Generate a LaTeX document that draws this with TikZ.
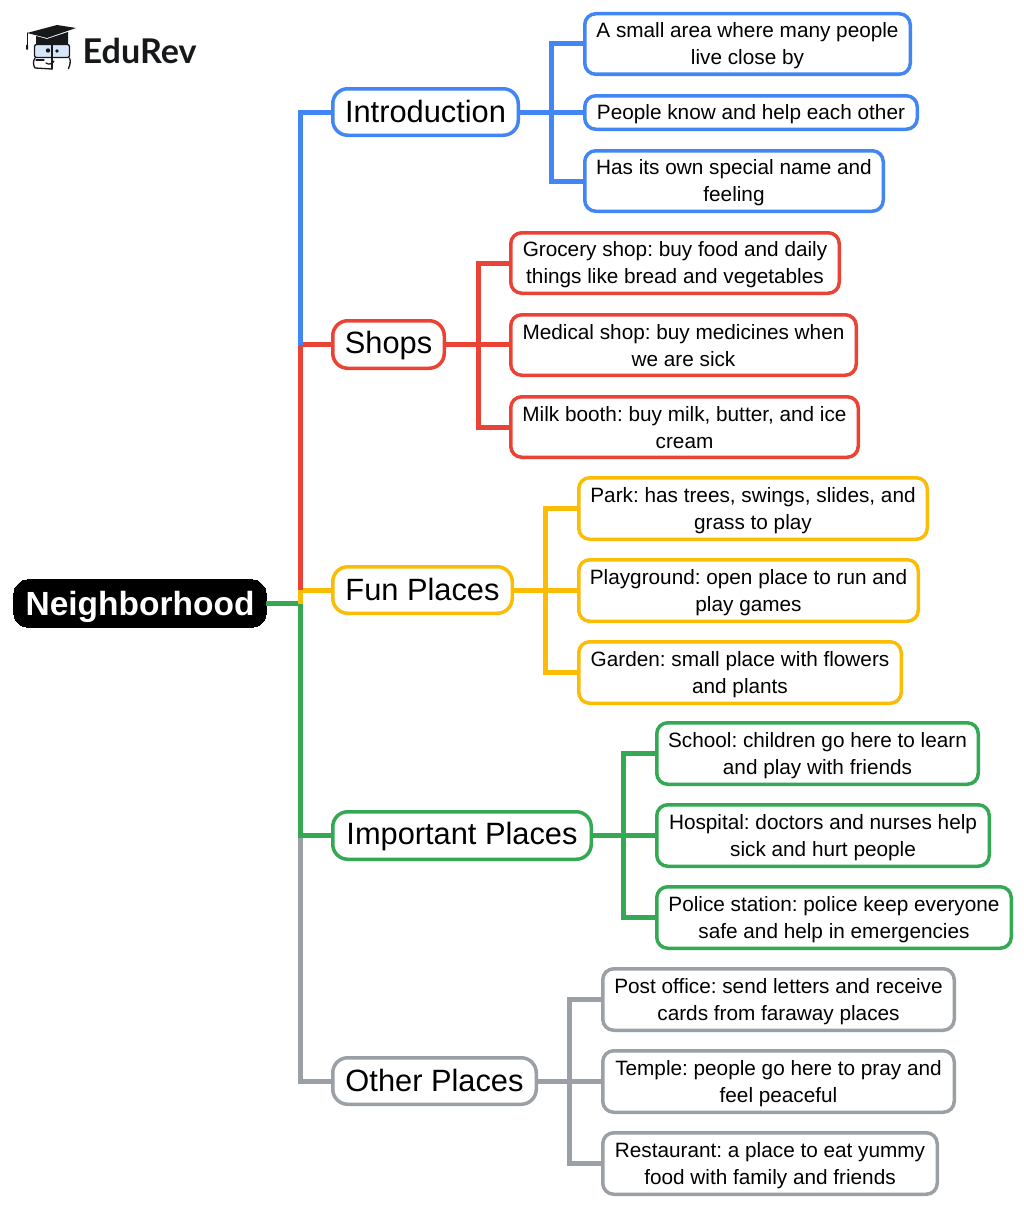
\documentclass[tikz,border=0pt]{standalone}
\usepackage{fontspec}
\setmainfont{Liberation Sans}
\newfontfamily\logofont{Lato}
\frenchspacing
\definecolor{cblue}{HTML}{4285F4}
\definecolor{cred}{HTML}{EA4335}
\definecolor{cyel}{HTML}{FBBC04}
\definecolor{cgrn}{HTML}{34A853}
\definecolor{cgry}{HTML}{9AA0A6}
\definecolor{lens}{HTML}{D6E6F8}
\definecolor{logoink}{HTML}{16181A}
\tikzset{
  boxbase/.style={draw,fill=white,line width=3.5pt,inner sep=0pt,align=center,text=black},
  branch/.style={boxbase,rounded corners=15pt,font=\fontsize{30.8}{36}\selectfont},
  leaf/.style={boxbase,rounded corners=11pt,font=\fontsize{20.75}{27}\selectfont},
  rootbox/.style={fill=black,text=white,draw=black,line width=0pt,inner sep=0pt,rounded corners=15pt,font=\fontsize{33.5}{38}\selectfont\bfseries},
  link/.style={line width=5pt,line join=miter},
  logoline/.style={draw=logoink,line width=1.3pt,line join=round,line cap=round}
}
% name, style, x1, y1, x2, y2, strut height, strut depth, text
\newcommand{\bx}[9]{%
  \pgfmathsetmacro{\cx}{(#3+#5)/2}%
  \pgfmathsetmacro{\cy}{(#4+#6)/2}%
  \pgfmathsetmacro{\bw}{#5-#3-1.5}%
  \pgfmathsetmacro{\bh}{#6-#4-1.5}%
  \node[#2,minimum width=\bw pt,minimum height=\bh pt] (#1) at (\cx,\cy) {\rule{0pt}{#7pt}#9\rule[-#8pt]{0pt}{#8pt}};}
\newcommand{\leafbx}[7]{\bx{#1}{leaf,draw=#2}{#3}{#4}{#5}{#6}{19}{4}{#7}}
\newcommand{\bxb}[6]{\bx{#1}{branch,draw=#2}{332}{#3}{#4}{#5}{25}{5}{#6}}
\begin{document}
\begin{tikzpicture}[x=1pt,y=-1pt]
\useasboundingbox (0,0) rectangle (1024,1207);
\fill[white] (0,0) rectangle (1024,1207);

% logo
\fill[logoink] (27,33) -- (57,25) -- (76,28) -- (47,38) -- cycle;
\fill[logoink] (36,36) -- (47,39) -- (68,32) -- (68,44) -- (36,44) -- cycle;
\draw[logoline,line width=1pt] (27,33) -- (27,45);
\fill[logoink] (26,45) -- (28,45) -- (28,49) -- (27,50) -- (26,49) -- cycle;
\draw[logoline,fill=lens,rounded corners=2pt] (34.5,44.5) rectangle (69.5,57.5);
\draw[logoline] (35,58) .. controls (33,61) and (33,65) .. (35,68) -- (52,69);
\draw[logoline] (69.5,58) .. controls (71,61) and (70,65) .. (68.5,68.5);
\draw[logoline] (52,44.5) -- (52,69);
\draw[logoline] (36,60) -- (44,60);
\draw[logoline] (46,63) .. controls (49,65) and (52,64) .. (54,61);
\fill[logoink] (48,50.5) circle (2.2pt) (57,51) circle (1.8pt);
\node[font=\logofont\bfseries\fontsize{34.1}{36}\selectfont,text=logoink,inner sep=0pt,anchor=west] (logotext) at (82.5,51) {EduRev};

% boxes
\bx{root}{rootbox}{13}{579}{267}{628}{31}{6}{Neighborhood}
\bxb{intro}{cblue}{88}{519}{136}{Introduction}
\bxb{shops}{cred}{320}{445}{369}{Shops}
\bxb{fun}{cyel}{566}{513}{614}{Fun Places}
\bxb{imp}{cgrn}{811}{592}{860}{Important Places}
\bxb{oth}{cgry}{1057}{537}{1105}{Other Places}

\leafbx{a1}{cblue}{584}{13}{911}{75}{A small area where many people\\live close by}
\leafbx{a2}{cblue}{584}{95}{918}{130}{People know and help each other}
\leafbx{a3}{cblue}{584}{150}{884}{212}{Has its own special name and\\feeling}
\leafbx{b1}{cred}{510}{232}{840}{294}{Grocery shop: buy food and daily\\things like bread and vegetables}
\leafbx{b2}{cred}{510}{314}{857}{376}{Medical shop: buy medicines when\\we are sick}
\leafbx{b3}{cred}{510}{396}{859}{458}{Milk booth: buy milk, butter, and ice\\cream}
\leafbx{c1}{cyel}{578}{477}{928}{540}{Park: has trees, swings, slides, and\\grass to play}
\leafbx{c2}{cyel}{578}{559}{919}{622}{Playground: open place to run and\\play games}
\leafbx{c3}{cyel}{578}{641}{902}{704}{Garden: small place with flowers\\and plants}
\leafbx{d1}{cgrn}{656}{722}{979}{785}{School: children go here to learn\\and play with friends}
\leafbx{d2}{cgrn}{656}{804}{990}{867}{Hospital: doctors and nurses help\\sick and hurt people}
\leafbx{d3}{cgrn}{656}{886}{1012}{949}{Police station: police keep everyone\\safe and help in emergencies}
\leafbx{e1}{cgry}{602}{968}{955}{1031}{Post office: send letters and receive\\cards from faraway places}
\leafbx{e2}{cgry}{602}{1050}{955}{1113}{Temple: people go here to pray and\\feel peaceful}
\leafbx{e3}{cgry}{602}{1132}{938}{1195}{Restaurant: a place to eat yummy\\food with family and friends}

% spine
\coordinate (s0) at (300,603.5);
\coordinate (ta) at (551,112);
\coordinate (tb) at (478,344.5);
\coordinate (tc) at (545.5,590);
\coordinate (td) at (623.5,835.5);
\coordinate (te) at (569.5,1081);

\draw[link,cgry] (s0 |- imp) -- (s0 |- oth) -- (oth.west);
\draw[link,cgrn] (root.east) -- (s0) -- (s0 |- imp) -- (imp.west);
\draw[link,cyel] (s0) -- (s0 |- fun) -- (fun.west);
\draw[link,cred] (s0 |- fun) -- (s0 |- shops) -- (shops.west);
\draw[link,cblue] (s0 |- shops) -- (s0 |- intro) -- (intro.west);

% child links
\draw[link,cblue] (intro.east) -- (a2.west |- intro);
\draw[link,cblue] (a1.west) -| (ta) |- (a3.west);
\draw[link,cred] (shops.east) -- (b2.west |- shops);
\draw[link,cred] (b1.west) -| (tb) |- (b3.west);
\draw[link,cyel] (fun.east) -- (c2.west |- fun);
\draw[link,cyel] (c1.west) -| (tc) |- (c3.west);
\draw[link,cgrn] (imp.east) -- (d2.west |- imp);
\draw[link,cgrn] (d1.west) -| (td) |- (d3.west);
\draw[link,cgry] (oth.east) -- (e2.west |- oth);
\draw[link,cgry] (e1.west) -| (te) |- (e3.west);
\end{tikzpicture}
\end{document}
